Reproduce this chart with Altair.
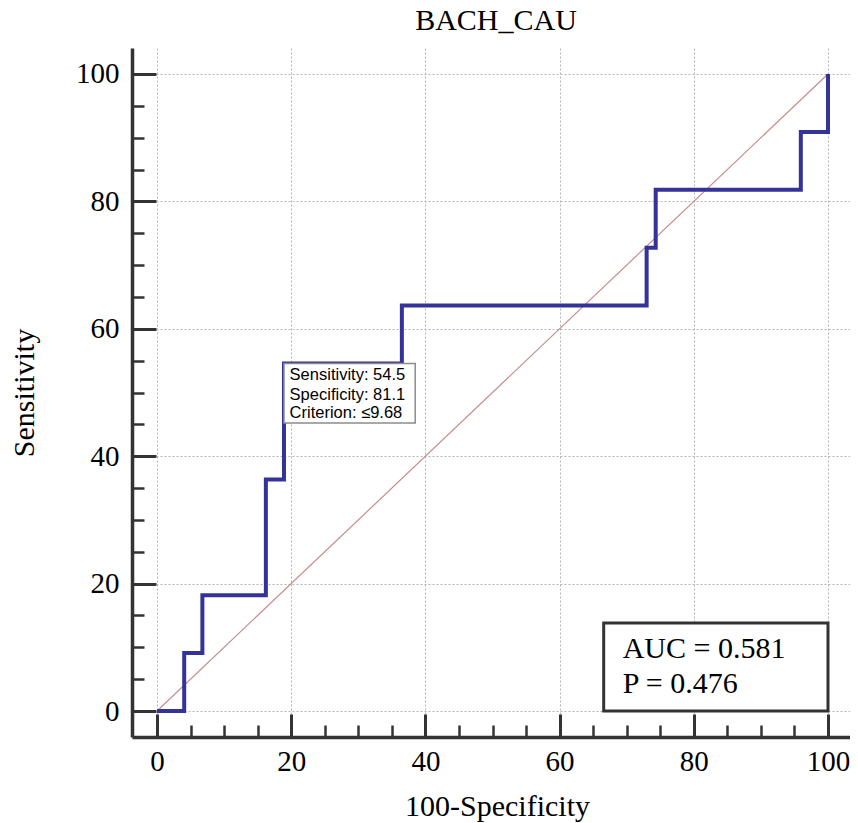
import altair as alt
import pandas as pd

# ROC curve (100-Specificity, Sensitivity)
fpr = [0, 4.05, 4.05, 6.76, 6.76, 16.22, 16.22, 18.92, 18.92, 36.49, 36.49,
       72.97, 72.97, 74.32, 74.32, 95.95, 95.95, 100, 100]
tpr = [0, 0, 9.09, 9.09, 18.18, 18.18, 36.36, 36.36, 54.55, 54.55, 63.64,
       63.64, 72.73, 72.73, 81.82, 81.82, 90.91, 90.91, 100]

diag_x = [0, 100]
diag_y = [0, 100]

major_ticks = [0, 20, 40, 60, 80, 100]
minor_ticks = [5, 10, 15, 25, 30, 35, 45, 50, 55, 65, 70, 75, 85, 90, 95]

# criterion annotation box
crit_lines = ["Sensitivity: 54.5", "Specificity: 81.1", "Criterion: \u22649.68"]
crit_line_y = [51.96, 48.82, 46.0]
crit_text_x = 19.76
crit_box = {"x": 18.92, "x2": 38.48, "y": 54.55, "y2": 45.2}

# AUC box
auc_lines = ["AUC = 0.581", "P = 0.476"]
auc_line_y = [8.32, 2.83]
auc_text_x = 69.4
auc_box = {"x": 66.57, "x2": 100.0, "y": 13.8, "y2": 0.0}

chart_title = "BACH_CAU"

W, H = 718, 689
SERIF = "Liberation Serif"
SANS = "Liberation Sans"

xs = alt.Scale(domain=[-3.73, 103.28], nice=False, zero=False)
ys = alt.Scale(domain=[-4.08, 104.08], nice=False, zero=False)

roc_df = pd.DataFrame({"fpr": fpr, "tpr": tpr, "order": list(range(len(fpr)))})
diag_df = pd.DataFrame({"fpr": diag_x, "tpr": diag_y})
crit_df = pd.DataFrame({"label": crit_lines, "y": crit_line_y, "x": [crit_text_x] * 3})
crit_box_df = pd.DataFrame([crit_box])
auc_df = pd.DataFrame({"label": auc_lines, "y": auc_line_y, "x": [auc_text_x] * 2})
auc_box_df = pd.DataFrame([auc_box])
title_df = pd.DataFrame({"t": [chart_title]})

main_x_axis = alt.Axis(
    orient="bottom", values=major_ticks, ticks=False, tickSize=0,
    domain=True, domainColor="#333333", domainWidth=3.5,
    grid=True, gridColor="#b4b4b4", gridDash=[2, 2], gridWidth=1,
    labelFont=SERIF, labelFontSize=29, labelColor="black", labelPadding=10,
    labelFlush=False, labelBound=False,
    title="100-Specificity", titleFont=SERIF, titleFontSize=30,
    titleFontWeight="normal", titleColor="black",
    titleX=365, titleY=78, titleBaseline="alphabetic", titleAnchor="middle",
)
main_y_axis = alt.Axis(
    orient="left", values=major_ticks, ticks=False, tickSize=0,
    domain=True, domainColor="#333333", domainWidth=3.5,
    grid=True, gridColor="#b4b4b4", gridDash=[2, 2], gridWidth=1,
    labelFont=SERIF, labelFontSize=29, labelColor="black", labelPadding=13,
    labelFlush=False, labelBound=False,
    title="Sensitivity", titleFont=SERIF, titleFontSize=30,
    titleFontWeight="normal", titleColor="black",
    titleX=-99, titleY=H / 2, titleBaseline="alphabetic", titleAngle=270,
    titleAnchor="middle",
)

major_x_axis = alt.Axis(
    orient="top", offset=-H, values=major_ticks, ticks=True, tickSize=23,
    tickWidth=3, tickColor="#333333", labels=False, domain=False, grid=False,
    title=None,
)
major_y_axis = alt.Axis(
    orient="right", offset=-W, values=major_ticks, ticks=True, tickSize=24,
    tickWidth=3, tickColor="#333333", labels=False, domain=False, grid=False,
    title=None,
)
minor_x_axis = alt.Axis(
    orient="top", offset=-H, values=minor_ticks, ticks=True, tickSize=12,
    tickWidth=2.5, tickColor="#333333", labels=False, domain=False, grid=False,
    title=None,
)
minor_y_axis = alt.Axis(
    orient="right", offset=-W, values=minor_ticks, ticks=True, tickSize=12,
    tickWidth=2.5, tickColor="#333333", labels=False, domain=False, grid=False,
    title=None,
)

diag = alt.Chart(diag_df).mark_line(color="#c98a8a", strokeWidth=1.2).encode(
    x=alt.X("fpr:Q", scale=xs, axis=main_x_axis),
    y=alt.Y("tpr:Q", scale=ys, axis=main_y_axis),
)

roc = alt.Chart(roc_df).mark_line(
    color="#333399", strokeWidth=4, strokeJoin="miter"
).encode(
    x=alt.X("fpr:Q", scale=xs, axis=major_x_axis),
    y=alt.Y("tpr:Q", scale=ys, axis=major_y_axis),
    order="order:Q",
)

crit_rect = alt.Chart(crit_box_df).mark_rect(
    fill="white", stroke="#8c8c8c", strokeWidth=1.5
).encode(
    x=alt.X("x:Q", scale=xs, axis=None), x2="x2:Q",
    y=alt.Y("y:Q", scale=ys, axis=None), y2="y2:Q",
)
crit_text = alt.Chart(crit_df).mark_text(
    align="left", baseline="alphabetic", font=SANS, fontSize=16.5, color="black"
).encode(
    x=alt.X("x:Q", scale=xs, axis=None),
    y=alt.Y("y:Q", scale=ys, axis=None),
    text="label:N",
)

auc_rect = alt.Chart(auc_box_df).mark_rect(
    fill="white", stroke="#333333", strokeWidth=3
).encode(
    x=alt.X("x:Q", scale=xs, axis=minor_x_axis), x2="x2:Q",
    y=alt.Y("y:Q", scale=ys, axis=minor_y_axis), y2="y2:Q",
)
auc_text = alt.Chart(auc_df).mark_text(
    align="left", baseline="alphabetic", font=SERIF, fontSize=30, color="black"
).encode(
    x=alt.X("x:Q", scale=xs, axis=None),
    y=alt.Y("y:Q", scale=ys, axis=None),
    text="label:N",
)

title_mark = alt.Chart(title_df).mark_text(
    align="center", baseline="alphabetic", font=SERIF, fontSize=30,
    color="black",
).encode(
    x=alt.value(364), y=alt.value(-18), text="t:N",
)

chart = alt.layer(
    diag, roc, crit_rect, crit_text, auc_rect, auc_text, title_mark
).resolve_axis(
    x="independent", y="independent"
).properties(
    width=W, height=H,
    autosize=alt.AutoSizeParams(type="none"),
    padding={"left": 124, "top": 40, "right": 0, "bottom": 86},
    background="white",
).configure_view(stroke=None)

chart.save("out.html", embed_options={"renderer": "svg", "actions": False})
